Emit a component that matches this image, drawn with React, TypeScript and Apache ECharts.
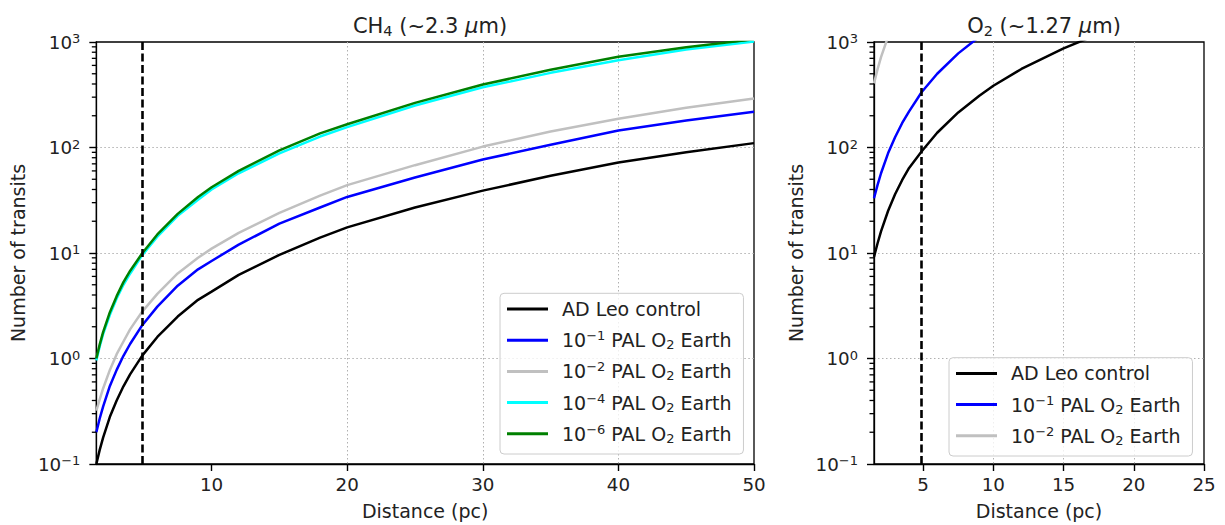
import React, { useEffect, useRef } from "react";
import * as echarts from "echarts";

// ---------- data ----------
const ch4Distance = [1.5, 1.75, 2, 2.5, 3, 3.5, 4, 4.9, 6, 7.5, 9, 10, 12, 15, 18, 20, 25, 30, 35, 40, 45, 50];
const ch4Control = [0.1, 0.136, 0.178, 0.28, 0.4, 0.545, 0.71, 1.07, 1.6, 2.5, 3.6, 4.3, 6.2, 9.6, 14, 17.5, 27, 39, 54, 72, 90, 110];
const ch4Pal1 = [0.2, 0.27, 0.35, 0.55, 0.78, 1.06, 1.38, 2.08, 3.1, 4.9, 7.0, 8.4, 12, 19, 27, 34, 52, 77, 106, 145, 180, 218];
const ch4Pal2 = [0.32, 0.41, 0.52, 0.78, 1.1, 1.45, 1.9, 2.8, 4.1, 6.4, 9.0, 11, 15.5, 24, 35, 44, 68, 102, 142, 187, 238, 292];
const ch4Pal4 = [0.96, 1.3, 1.7, 2.6, 3.7, 5.0, 6.4, 9.6, 14.3, 22.5, 32, 40, 57, 88, 127, 156, 250, 372, 510, 672, 850, 1010];
const ch4Pal6 = [1.0, 1.36, 1.78, 2.75, 3.9, 5.3, 6.8, 10, 15, 23.5, 34, 42, 60, 94, 136, 166, 265, 395, 545, 725, 890, 1060];

const o2DistControl = [1.5, 1.75, 2, 2.5, 3, 3.5, 4, 4.9, 6, 7.5, 9, 10, 12, 15, 17];
const o2Control = [9.2, 12.3, 16, 25, 36, 49, 64, 92, 138, 215, 310, 385, 555, 870, 1120];
const o2DistPal1 = [1.5, 1.75, 2, 2.5, 3, 3.5, 4, 4.9, 6, 7.5, 9];
const o2Pal1 = [33, 44, 57, 88, 125, 170, 220, 336, 500, 780, 1120];
const o2DistPal2 = [1.5, 1.75, 2, 2.5];
const o2Pal2 = [405, 550, 720, 1120];

const adLeoDistance = 4.9;

const ch4XTicks = [10, 20, 30, 40, 50];
const o2XTicks = [5, 10, 15, 20, 25];
const yTickValues = [0.1, 1, 10, 100, 1000];
const yTickExponents = ["−1", "0", "1", "2", "3"];
const yMinorMantissas = [2, 3, 4, 5, 6, 7, 8, 9];

const names = {
  control: "AD Leo control",
  pal1: "10⁻¹ PAL O₂ Earth",
  pal2: "10⁻² PAL O₂ Earth",
  pal4: "10⁻⁴ PAL O₂ Earth",
  pal6: "10⁻⁶ PAL O₂ Earth",
};
const legendRich: Record<string, string> = {
  [names.control]: "AD Leo control",
  [names.pal1]: "10{sup|−1} PAL O{sub|2} Earth",
  [names.pal2]: "10{sup|−2} PAL O{sub|2} Earth",
  [names.pal4]: "10{sup|−4} PAL O{sub|2} Earth",
  [names.pal6]: "10{sup|−6} PAL O{sub|2} Earth",
};
const colors = {
  control: "#000000",
  pal1: "#0000ff",
  pal2: "#c0c0c0",
  pal4: "#00ffff",
  pal6: "#008000",
};

const FONT = "DejaVu Sans";
const TXT = "#222";

function pairs(xs: number[], ys: number[]) {
  return xs.map((x, i) => [x, ys[i]]);
}

export default function App() {
  const ref = useRef<HTMLDivElement>(null);
  useEffect(() => {
    if (!ref.current) return;
    const chart = echarts.init(ref.current, null, { renderer: "svg" });

    const xMins = [1.5, 1.5];
    const xMaxs = [50, 25];
    const xTicks = [ch4XTicks, o2XTicks];

    const xAxes = [0, 1].map((i) => ({
      type: "value",
      gridIndex: i,
      min: xMins[i],
      max: xMaxs[i],
      name: "Distance (pc)",
      nameLocation: "middle",
      nameGap: 37,
      nameTextStyle: { fontFamily: FONT, fontSize: 19, color: TXT },
      axisLine: { show: true, lineStyle: { color: "#000", width: 1.3 } },
      axisTick: { show: true, inside: false, length: 7, customValues: xTicks[i], lineStyle: { color: "#000", width: 1.4 } },
      axisLabel: { show: true, customValues: xTicks[i], margin: 11, fontFamily: FONT, fontSize: 18.3, color: TXT },
      splitLine: { show: true, showMinLine: false, showMaxLine: false, lineStyle: { color: "#b0b0b0", type: [1.5, 2.5], width: 1 } },
    }));

    const yAxes = [0, 1].map((i) => ({
      type: "log",
      logBase: 10,
      gridIndex: i,
      min: 0.1,
      max: 1000,
      name: "Number of transits",
      nameLocation: "middle",
      nameGap: i === 0 ? 68 : 69,
      nameTextStyle: { fontFamily: FONT, fontSize: 19, color: TXT },
      axisLine: { show: true, lineStyle: { color: "#000", width: 1.3 } },
      axisTick: { show: true, inside: false, length: 7, lineStyle: { color: "#000", width: 1.4 } },
      axisLabel: {
        show: true,
        margin: 16,
        showMinLabel: true,
        showMaxLabel: true,
        fontFamily: FONT,
        fontSize: 18.3,
        lineHeight: 20,
        color: TXT,
        formatter: (v: number) => {
          const idx = yTickValues.findIndex((t) => Math.abs(Math.log10(t) - Math.log10(v)) < 1e-6);
          return idx >= 0 ? "10{sup|" + yTickExponents[idx] + "}" : "";
        },
        rich: {
          sup: { fontFamily: FONT, fontSize: 13, lineHeight: 13, verticalAlign: "top", color: TXT },
        },
      },
      splitLine: { show: true, showMinLine: false, showMaxLine: false, lineStyle: { color: "#b0b0b0", type: [1.5, 2.5], width: 1 } },
    }));

    const lineSeries = (name: string, color: string, data: number[][], gi: number, extra: any = {}) => ({
      type: "line",
      name,
      xAxisIndex: gi,
      yAxisIndex: gi,
      data,
      showSymbol: false,
      symbol: "none",
      clip: true,
      lineStyle: { color, width: 2.5 },
      itemStyle: { color },
      z: 3,
      ...extra,
    });

    const vline = {
      markLine: {
        silent: true,
        symbol: "none",
        label: { show: false },
        lineStyle: { color: "#000", type: [8, 3.5], width: 2.6 },
        data: [{ xAxis: adLeoDistance }],
      },
    };

    const legendCommon = {
      orient: "vertical",
      icon: "rect",
      itemWidth: 41,
      itemHeight: 3,
      itemGap: 9.2,
      padding: [4.7, 12, 9.2, 7],
      backgroundColor: "rgba(255,255,255,0.8)",
      borderColor: "#cccccc",
      borderWidth: 1,
      borderRadius: 4,
      selectedMode: false,
      formatter: (n: string) => legendRich[n] ?? n,
      textStyle: {
        fontFamily: FONT,
        fontSize: 19,
        color: TXT,
        lineHeight: 22,
        padding: [0, 0, 0, 9],
        rich: {
          sup: { fontFamily: FONT, fontSize: 13, lineHeight: 13, verticalAlign: "top", color: TXT },
          sub: { fontFamily: FONT, fontSize: 13, lineHeight: 13, verticalAlign: "bottom", color: TXT },
        },
      },
    };

    const titleRich = {
      sub: { fontFamily: FONT, fontSize: 14.5, lineHeight: 14, verticalAlign: "bottom", color: TXT },
      it: { fontFamily: FONT, fontSize: 21, fontStyle: "italic", color: TXT },
    };

    chart.setOption({
      animation: false,
      backgroundColor: "#fff",
      title: [
        {
          text: "CH{sub|4} (~2.3 {it|μ}m)",
          left: 425,
          top: 9,
          textAlign: "center",
          textStyle: { fontFamily: FONT, fontSize: 21, lineHeight: 24, fontWeight: "normal", color: TXT, rich: titleRich },
        },
        {
          text: "O{sub|2} (~1.27 {it|μ}m)",
          left: 1039,
          top: 9,
          textAlign: "center",
          textStyle: { fontFamily: FONT, fontSize: 21, lineHeight: 24, fontWeight: "normal", color: TXT, rich: titleRich },
        },
      ],
      grid: [
        { left: 96, top: 42, width: 658, height: 422, show: true, borderColor: "#000", borderWidth: 1.3, backgroundColor: "transparent" },
        { left: 874, top: 42, width: 330, height: 422, show: true, borderColor: "#000", borderWidth: 1.3, backgroundColor: "transparent" },
      ],
      xAxis: xAxes,
      yAxis: yAxes,
      legend: [
        { ...legendCommon, left: 500, top: 293.3, data: [names.control, names.pal1, names.pal2, names.pal4, names.pal6] },
        { ...legendCommon, left: 949, top: 357.7, data: [names.control, names.pal1, names.pal2] },
      ],
      series: [
        lineSeries(names.control, colors.control, pairs(ch4Distance, ch4Control), 0, vline),
        lineSeries(names.pal1, colors.pal1, pairs(ch4Distance, ch4Pal1), 0),
        lineSeries(names.pal2, colors.pal2, pairs(ch4Distance, ch4Pal2), 0),
        lineSeries(names.pal4, colors.pal4, pairs(ch4Distance, ch4Pal4), 0),
        lineSeries(names.pal6, colors.pal6, pairs(ch4Distance, ch4Pal6), 0),
        lineSeries(names.control, colors.control, pairs(o2DistControl, o2Control), 1, vline),
        lineSeries(names.pal1, colors.pal1, pairs(o2DistPal1, o2Pal1), 1),
        lineSeries(names.pal2, colors.pal2, pairs(o2DistPal2, o2Pal2), 1),
      ],
    });

    // minor log ticks on the y axes, positioned through the axis scales
    const minorVals: number[] = [];
    for (let i = 0; i < yTickValues.length - 1; i++) {
      yMinorMantissas.forEach((m) => minorVals.push(m * yTickValues[i]));
    }
    const ticks: any[] = [];
    [0, 1].forEach((gi) => {
      minorVals.forEach((v) => {
        const p = chart.convertToPixel({ gridIndex: gi } as any, [xMins[gi], v]) as any;
        if (!p || !isFinite(p[0]) || !isFinite(p[1])) return;
        ticks.push({
          type: "line",
          silent: true,
          z: 100,
          shape: { x1: p[0] - 4.5, y1: p[1], x2: p[0], y2: p[1] },
          style: { stroke: "#000", lineWidth: 1.3 },
        });
      });
    });
    if (ticks.length) chart.setOption({ graphic: { elements: ticks } });

    return () => chart.dispose();
  }, []);
  return <div ref={ref} style={{ position: "fixed", left: 0, top: 0, width: 1225, height: 525 }} />;
}
